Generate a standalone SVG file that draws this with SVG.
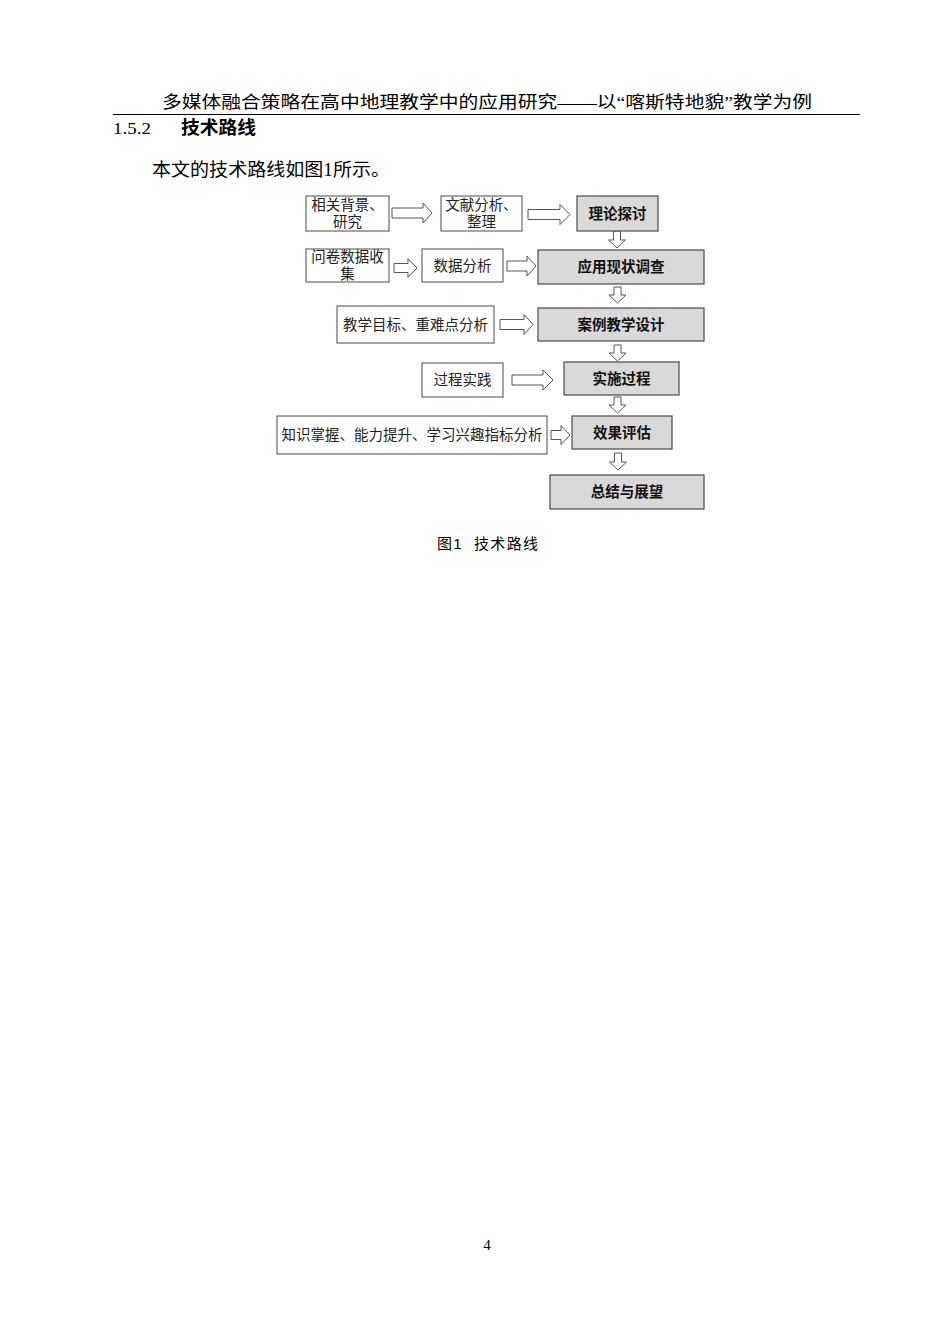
<svg xmlns="http://www.w3.org/2000/svg" width="950" height="1344" viewBox="0 0 950 1344">
<style>
.serif{font-family:"Liberation Serif","Noto Sans CJK SC",serif;fill:#000}
.sans{font-family:"Liberation Sans","Noto Sans CJK SC",sans-serif;fill:#000}
.box{fill:#fff;stroke:#4a4a4a;stroke-width:1}
.gbox{fill:#d9d9d9;stroke:#4a4a4a;stroke-width:1.2}
.t{font-family:"Liberation Serif","Noto Sans CJK SC",serif;font-size:14.5px;fill:#222;text-anchor:middle}
.b{font-family:"Liberation Serif","Noto Sans CJK SC",serif;font-size:14.5px;font-weight:bold;fill:#111;text-anchor:middle}
.arr{fill:#fff;stroke:#555;stroke-width:1}
</style>
<rect width="950" height="1344" fill="#fff"/>
<text class="serif" x="162" y="108" font-size="17" textLength="650" lengthAdjust="spacingAndGlyphs">多媒体融合策略在高中地理教学中的应用研究——以“喀斯特地貌”教学为例</text>
<line x1="113" y1="114.5" x2="860" y2="114.5" stroke="#000" stroke-width="1.2"/>
<text class="serif" x="113" y="134" font-size="17" textLength="38" lengthAdjust="spacingAndGlyphs">1.5.2</text>
<text class="sans" x="181" y="134" font-size="18" font-weight="bold" textLength="75" lengthAdjust="spacingAndGlyphs">技术路线</text>
<text class="serif" x="152" y="176" font-size="18" textLength="238" lengthAdjust="spacingAndGlyphs">本文的技术路线如图1所示。</text>

<g id="connectors">
<polygon class="arr" points="392,208 423,208 423,203 432,213 423,223 423,218 392,218"/>
<polygon class="arr" points="528,209.5 560,209.5 560,204.5 570,214.5 560,224.5 560,219.5 528,219.5"/>
<polygon class="arr" points="394,263.5 408,263.5 408,258.5 417,268 408,277.5 408,272.5 394,272.5"/>
<polygon class="arr" points="507,261 527,261 527,256 536,266 527,276 527,271 507,271"/>
<polygon class="arr" points="500,319.5 524,319.5 524,314.5 533,324.5 524,334.5 524,329.5 500,329.5"/>
<polygon class="arr" points="512,375 543,375 543,370 553,380 543,390 543,385 512,385"/>
<polygon class="arr" points="551,430.5 561,430.5 561,425.5 570,435 561,444.5 561,439.5 551,439.5"/>
<polygon class="arr" points="613.5,231 620.5,231 620.5,240 625.5,240 617,248 608.5,240 613.5,240"/>
<polygon class="arr" points="614,287 621,287 621,295 626,295 617.5,303 609,295 614,295"/>
<polygon class="arr" points="614,345 621,345 621,353 626,353 617.5,361 609,353 614,353"/>
<polygon class="arr" points="614,397 621,397 621,405 626,405 617.5,413 609,405 614,405"/>
<polygon class="arr" points="614.5,453 621.5,453 621.5,462 626.5,462 618,470 609.5,462 614.5,462"/>
</g>

<g id="n1"><rect class="box" x="306" y="196" width="83" height="35"/><text class="t" x="347.5" y="210">相关背景、</text><text class="t" x="347.5" y="227">研究</text></g>
<g id="n2"><rect class="box" x="441" y="196" width="81" height="35"/><text class="t" x="481.5" y="210">文献分析、</text><text class="t" x="481.5" y="227">整理</text></g>
<g id="n3"><rect class="gbox" x="577" y="196" width="81" height="35"/><text class="b" x="617.5" y="219">理论探讨</text></g>
<g id="n4"><rect class="box" x="306" y="249" width="83" height="33"/><text class="t" x="347.5" y="262">问卷数据收</text><text class="t" x="347.5" y="279">集</text></g>
<g id="n5"><rect class="box" x="422" y="249" width="81" height="33"/><text class="t" x="462.5" y="271">数据分析</text></g>
<g id="n6"><rect class="gbox" x="538" y="250" width="166" height="34"/><text class="b" x="621" y="272">应用现状调查</text></g>
<g id="n7"><rect class="box" x="337" y="306" width="157" height="37"/><text class="t" x="415.5" y="330">教学目标、重难点分析</text></g>
<g id="n8"><rect class="gbox" x="538" y="308" width="166" height="33"/><text class="b" x="621" y="330">案例教学设计</text></g>
<g id="n9"><rect class="box" x="422" y="363" width="81" height="34"/><text class="t" x="462.5" y="385">过程实践</text></g>
<g id="n10"><rect class="gbox" x="564" y="362" width="115" height="33"/><text class="b" x="621.5" y="384">实施过程</text></g>
<g id="n11"><rect class="box" x="277" y="416" width="270" height="38"/><text class="t" x="412" y="440">知识掌握、能力提升、学习兴趣指标分析</text></g>
<g id="n12"><rect class="gbox" x="572" y="416" width="100" height="33"/><text class="b" x="622" y="438">效果评估</text></g>
<g id="n13"><rect class="gbox" x="550" y="475" width="154" height="34"/><text class="b" x="627" y="497">总结与展望</text></g>

<text class="sans" x="437" y="549" font-size="15" textLength="101" lengthAdjust="spacing" xml:space="preserve">图1  技术路线</text>
<text class="serif" x="487" y="1250" font-size="15" text-anchor="middle">4</text>
</svg>
